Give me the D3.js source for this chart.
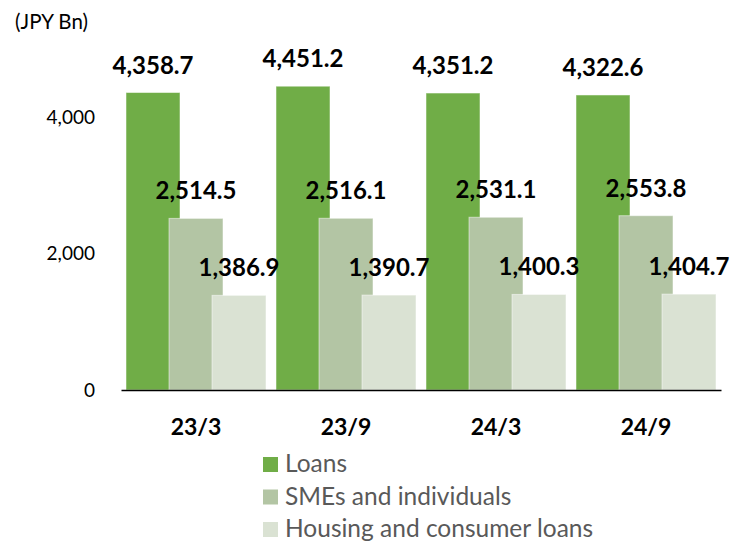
<!DOCTYPE html>
<html>
<head>
<meta charset="utf-8">
<script src="https://cdn.jsdelivr.net/npm/d3@7"></script>
<style>
    body { margin: 0; background: #fff; }
    svg { font-family: Lato, "Open Sans", sans-serif; }
</style>
</head>
<body>
<div class="chart"></div>
<script>
    // data
    const periods = ['23/3', '23/9', '24/3', '24/9'];
    const seriesNames = ['Loans', 'SMEs and individuals', 'Housing and consumer loans'];
    const loans = [4358.7, 4451.2, 4351.2, 4322.6];
    const smes = [2514.5, 2516.1, 2531.1, 2553.8];
    const housing = [1386.9, 1390.7, 1400.3, 1404.7];
    const yTicks = [0, 2000, 4000];
    const colors = ['#70ad47', '#b3c5a4', '#dae2d3'];
    const unitLabel = '(JPY Bn)';

    // graph constants
    const w = 742;
    const h = 542;
    const left = 121;
    const right = 721;
    const base = 390;
    const barW = 54;

    const svg = d3.select('.chart')
        .append('svg')
        .attr('width', w)
        .attr('height', h);

    // scales
    const xScale = d3.scaleBand()
        .domain(periods)
        .range([left, right]);
    const subScale = d3.scaleBand()
        .domain(seriesNames)
        .range([5, 134]);
    const yScale = d3.scaleLinear()
        .domain([0, 5000])
        .range([base, base - 341.25]);

    const values = [loans, smes, housing];
    const rows = [];
    seriesNames.forEach((s, si) => {
        periods.forEach((p, pi) => rows.push({ s, si, p, v: values[si][pi] }));
    });

    // bars (drawn series by series so later ones overlap the earlier)
    svg.selectAll('rect.bar')
        .data(rows)
        .enter()
        .append('rect')
        .attr('class', 'bar')
        .attr('x', d => xScale(d.p) + subScale(d.s))
        .attr('y', d => yScale(d.v))
        .attr('width', barW)
        .attr('height', d => base - yScale(d.v))
        .attr('fill', d => colors[d.si])
        .attr('stroke', '#ffffff')
        .attr('stroke-opacity', 0.5)
        .attr('stroke-width', 1);

    // value labels
    svg.selectAll('text.val')
        .data(rows)
        .enter()
        .append('text')
        .attr('class', 'val')
        .attr('x', d => xScale(d.p) + subScale(d.s) + barW / 2)
        .attr('y', d => yScale(d.v) - 19)
        .attr('text-anchor', 'middle')
        .attr('font-size', 24)
        .attr('font-weight', 'bold')
        .attr('fill', '#000')
        .text(d => d3.format(',.1f')(d.v));

    // y axis
    const yAxis = svg.append('g')
        .attr('transform', `translate(${left}, 0)`)
        .call(d3.axisLeft(yScale).tickValues(yTicks).tickSize(0).tickPadding(26).tickFormat(d3.format(',')));
    yAxis.select('.domain').remove();
    yAxis.selectAll('text')
        .attr('font-size', 19)
        .attr('font-family', 'Lato, sans-serif')
        .attr('fill', '#000');

    // x axis
    const xAxis = svg.append('g')
        .attr('transform', `translate(0, ${base})`)
        .call(d3.axisBottom(xScale).tickSize(0).tickPadding(29));
    xAxis.select('.domain')
        .attr('stroke', '#000')
        .attr('stroke-width', 1.5);
    xAxis.selectAll('text')
        .attr('font-size', 23)
        .attr('font-weight', 'bold')
        .attr('font-family', 'Lato, sans-serif')
        .attr('fill', '#000');

    // unit label
    svg.append('text')
        .attr('x', 15)
        .attr('y', 29)
        .attr('font-size', 20.5)
        .attr('fill', '#000')
        .text(unitLabel);

    // legend
    const legend = svg.selectAll('g.legend')
        .data(seriesNames)
        .enter()
        .append('g')
        .attr('class', 'legend')
        .attr('transform', (d, i) => `translate(263, ${457 + i * 32.5})`);
    legend.append('rect')
        .attr('width', 15)
        .attr('height', 15)
        .attr('fill', (d, i) => colors[i]);
    legend.append('text')
        .attr('x', 22)
        .attr('y', 15)
        .attr('font-size', 24.5)
        .attr('fill', '#595959')
        .text(d => d);
</script>
</body>
</html>
